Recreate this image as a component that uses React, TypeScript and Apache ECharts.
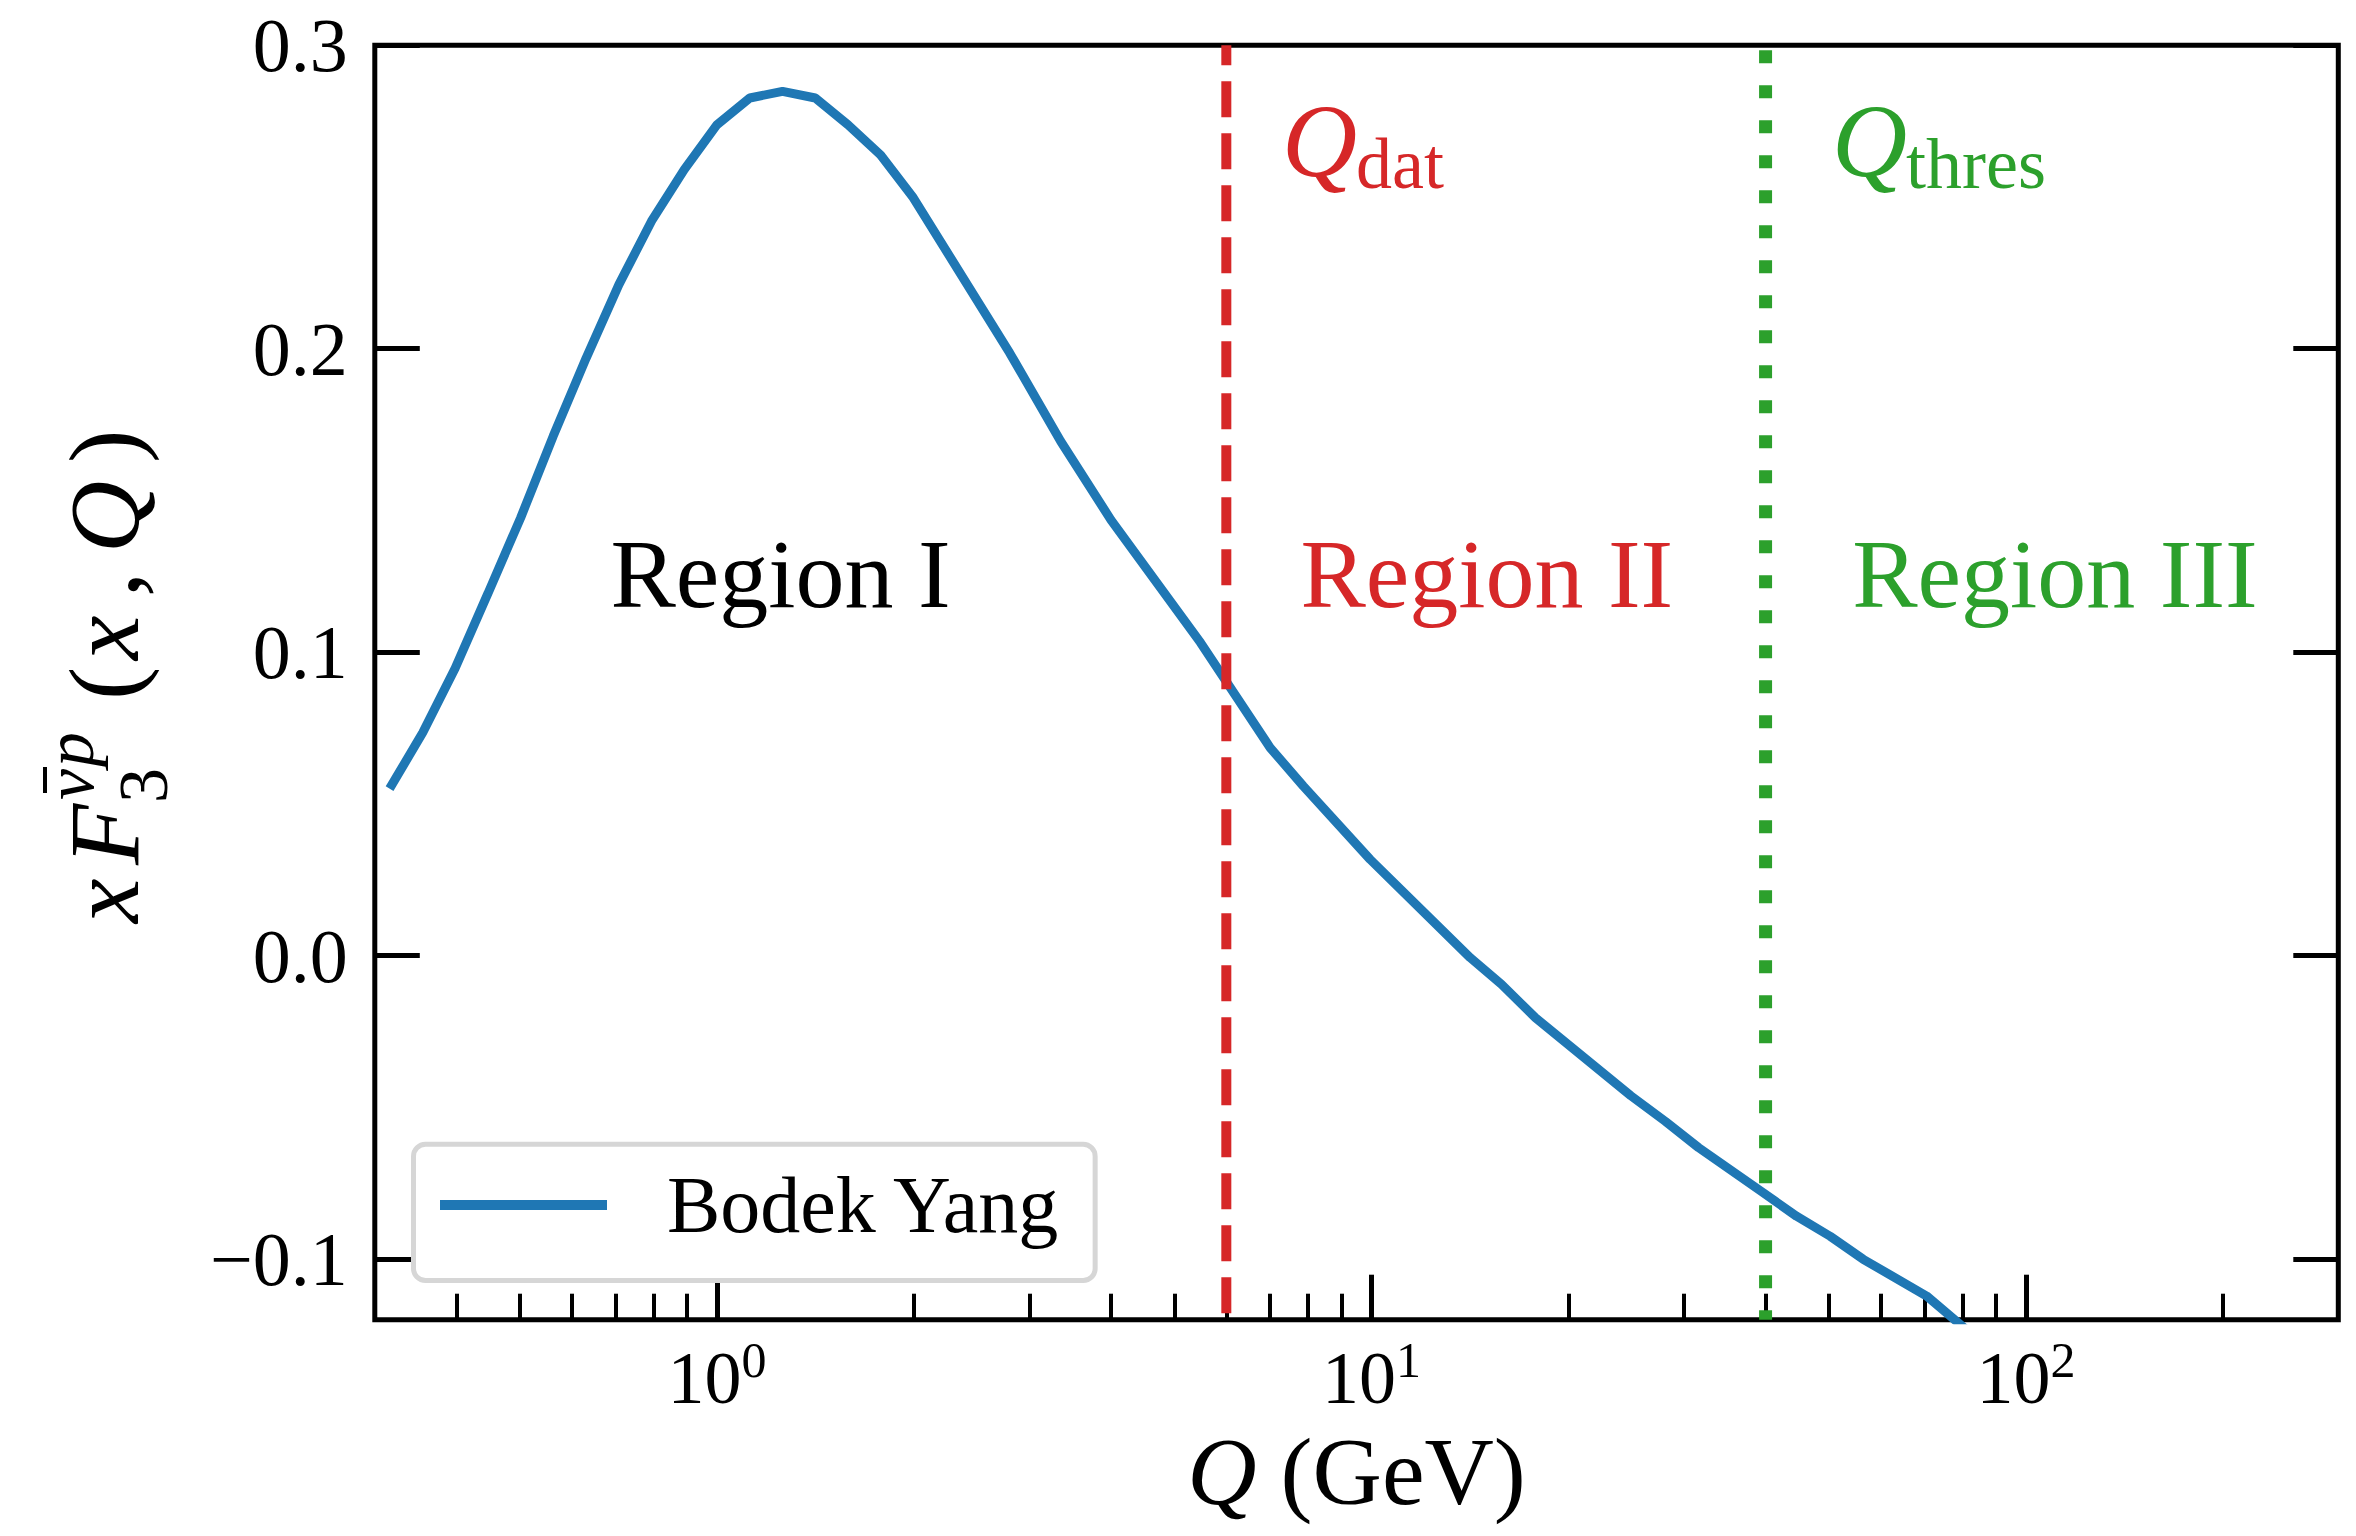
import React, { useEffect, useRef } from "react";
import * as echarts from "echarts";

const FONT = "'Liberation Serif', 'Times New Roman', Times, serif";

// Curve (Q in GeV, xF3 values)
const qValues = [
  0.316, 0.355, 0.398, 0.447, 0.501, 0.562, 0.631, 0.708, 0.794, 0.891,
  1.0, 1.122, 1.259, 1.413, 1.585, 1.778, 1.995,
  2.8, 3.35, 4.0, 5.48,
  7.0, 7.87, 9.95,
  14.15, 15.8, 17.8,
  24.9, 28.1, 31.6,
  39.7, 44.6, 50.2, 56.4,
  70.5, 86,
];
const xF3Values = [
  0.055, 0.0734, 0.0947, 0.1195, 0.1442, 0.1712, 0.1969, 0.2211, 0.242, 0.259,
  0.2738, 0.2826, 0.2848, 0.2826, 0.2738, 0.2638, 0.2497,
  0.1986, 0.1695, 0.1435, 0.1031,
  0.0685, 0.0558, 0.0317,
  -0.0007, -0.0095, -0.0205,
  -0.0462, -0.0546, -0.0633,
  -0.0782, -0.0859, -0.0925, -0.1001,
  -0.1122, -0.128,
];
const seriesName = "Bodek Yang";
const qDat = 6;
const qThres = 40;
const xMin = 0.3;
const xMax = 300;
const yMin = -0.12;
const yMax = 0.3;
const majorTicksX = [1, 10, 100];
const minorTicksX = [0.4, 0.5, 0.6, 0.7, 0.8, 0.9, 2, 3, 4, 5, 6, 7, 8, 9, 20, 30, 40, 50, 60, 70, 80, 90, 200];
const yTicks = [-0.1, 0, 0.1, 0.2, 0.3];
const regionLabels = ["Region I", "Region II", "Region III"];
const regionColors = ["#000000", "#d62728", "#2ca02c"];

const BLUE = "#1f77b4";
const RED = "#d62728";
const GREEN = "#2ca02c";

function fmtY(v: number): string {
  const s = Math.abs(v).toFixed(1);
  return v < -1e-9 ? "\u2212" + s : s;
}

export default function App() {
  const ref = useRef<HTMLDivElement>(null);

  useEffect(() => {
    if (!ref.current) return;
    const chart = echarts.init(ref.current, null, { renderer: "svg" });

    const curve = qValues.map((q, i) => [q, xF3Values[i]]);

    const regionX = [780.6, 1486.8, 2055];
    const regionY = 574;

    const txt = (text: string, x: number, y: number, size: number, opts: any = {}) => ({
      type: "text",
      x,
      y,
      z: 20,
      style: {
        text,
        fill: opts.fill || "#000",
        fontSize: size,
        fontFamily: FONT,
        fontStyle: opts.italic ? "italic" : "normal",
        align: opts.align || "left",
        verticalAlign: "middle",
      },
    });

    const option: any = {
      animation: false,
      backgroundColor: "#ffffff",
      textStyle: { fontFamily: FONT, color: "#000" },
      grid: {
        left: 374.8,
        top: 45.2,
        width: 1963.5,
        height: 1274.5,
        show: true,
        borderColor: "#000",
        borderWidth: 5,
        backgroundColor: "transparent",
        containLabel: false,
        outerBoundsMode: "none",
      },
      xAxis: [
        {
          type: "log",
          logBase: 10,
          min: xMin,
          max: xMax,
          position: "bottom",
          axisLine: { show: false, onZero: false },
          splitLine: { show: false },
          minorTick: { show: false },
          axisTick: {
            show: true,
            inside: true,
            length: 45,
            customValues: majorTicksX,
            lineStyle: { color: "#000", width: 5 },
          },
          axisLabel: {
            show: true,
            customValues: majorTicksX,
            margin: 15,
            formatter: (v: number) => `{b|10}{s|${Math.round(Math.log10(v))}}`,
            rich: {
              b: { fontSize: 74, fontFamily: FONT, color: "#000", lineHeight: 80, verticalAlign: "bottom" },
              s: { fontSize: 50, fontFamily: FONT, color: "#000", lineHeight: 36, verticalAlign: "top" },
            },
          },
          name: "{i|Q }{n|(GeV)}",
          nameLocation: "middle",
          nameGap: 104,
          nameTextStyle: {
            fontSize: 96,
            fontFamily: FONT,
            color: "#000",
            rich: {
              i: { fontSize: 96, fontFamily: FONT, fontStyle: "italic", color: "#000" },
              n: { fontSize: 96, fontFamily: FONT, color: "#000" },
            },
          },
        },
        {
          type: "log",
          logBase: 10,
          min: xMin,
          max: xMax,
          position: "bottom",
          gridIndex: 0,
          axisLine: { show: false, onZero: false },
          splitLine: { show: false },
          axisLabel: { show: false },
          axisTick: {
            show: true,
            inside: true,
            length: 26,
            customValues: minorTicksX,
            lineStyle: { color: "#000", width: 4 },
          },
        },
      ],
      yAxis: [
        {
          type: "value",
          min: yMin,
          max: yMax,
          position: "left",
          axisLine: { show: false, onZero: false },
          splitLine: { show: false },
          axisTick: {
            show: true,
            inside: true,
            length: 45,
            customValues: yTicks,
            lineStyle: { color: "#000", width: 5 },
          },
          axisLabel: {
            show: true,
            customValues: yTicks,
            formatter: fmtY,
            margin: 27,
            fontSize: 76,
            fontFamily: FONT,
            color: "#000",
          },
        },
        {
          type: "value",
          min: yMin,
          max: yMax,
          position: "right",
          axisLine: { show: false, onZero: false },
          splitLine: { show: false },
          axisLabel: { show: false },
          axisTick: {
            show: true,
            inside: true,
            length: 45,
            customValues: yTicks,
            lineStyle: { color: "#000", width: 5 },
          },
        },
      ],
      legend: {
        show: true,
        data: [seriesName],
        left: 413.5,
        top: 1144.2,
        orient: "horizontal",
        padding: [20.8, 34, 35.5, 26.5],
        backgroundColor: "#ffffff",
        borderColor: "#d6d6d6",
        borderWidth: 5,
        borderRadius: 12,
        icon: "rect",
        itemWidth: 167,
        itemHeight: 10,
        itemGap: 0,
        selectedMode: false,
        z: 10,
        itemStyle: { color: BLUE, borderWidth: 0 },
        textStyle: {
          fontSize: 80,
          fontFamily: FONT,
          color: "#000",
          lineHeight: 80,
          padding: [0, 0, 0, 55],
        },
      },
      series: [
        {
          name: seriesName,
          type: "line",
          xAxisIndex: 0,
          yAxisIndex: 0,
          data: curve,
          symbol: "none",
          showSymbol: false,
          clip: true,
          lineStyle: { color: BLUE, width: 9 },
          itemStyle: { color: BLUE },
          z: 2,
        },
        {
          name: "Qdat",
          type: "line",
          xAxisIndex: 0,
          yAxisIndex: 0,
          data: [[qDat, yMax], [qDat, yMin]],
          symbol: "none",
          silent: true,
          lineStyle: { color: RED, width: 10, type: [36, 16], dashOffset: 16, cap: "butt" },
          z: 3,
        },
        {
          name: "Qthres",
          type: "line",
          xAxisIndex: 0,
          yAxisIndex: 0,
          data: [[qThres, yMax], [qThres, yMin]],
          symbol: "none",
          silent: true,
          lineStyle: { color: GREEN, width: 13, type: [13, 22], dashOffset: 30, cap: "butt" },
          z: 3,
        },
      ],
      graphic: [
        ...regionLabels.map((t, i) =>
          txt(t, regionX[i], regionY, 98, { fill: regionColors[i], align: "center" })
        ),
        txt("Q", 1282, 140.6, 104, { fill: RED, italic: true }),
        txt("dat", 1356, 163.5, 72, { fill: RED }),
        txt("Q", 1832, 140.6, 104, { fill: GREEN, italic: true }),
        txt("thres", 1906, 163.5, 72, { fill: GREEN }),
        {
          type: "group",
          x: 138,
          y: 923,
          rotation: Math.PI / 2,
          z: 20,
          children: [
            txt("x", 0, -34, 100, { italic: true }),
            txt("F", 58, -34, 100, { italic: true }),
            txt("3", 120, 5, 70),
            txt("\u03BD", 123, -69, 70, { italic: true }),
            txt("p", 156, -69, 70, { italic: true }),
            {
              type: "line",
              z: 20,
              shape: { x1: 130, y1: -93, x2: 156, y2: -93 },
              style: { stroke: "#000", lineWidth: 4 },
            },
            txt("(", 223, -34, 100),
            txt("x", 263, -34, 100, { italic: true }),
            txt(",", 326, -34, 100),
            txt("Q", 370, -34, 100, { italic: true }),
            txt(")", 460, -34, 100),
          ],
        },
      ],
    };

    chart.setOption(option);
    return () => {
      chart.dispose();
    };
  }, []);

  return (
    <div
      ref={ref}
      style={{ position: "fixed", left: 0, top: 0, width: 2356, height: 1536, background: "#ffffff" }}
    />
  );
}
